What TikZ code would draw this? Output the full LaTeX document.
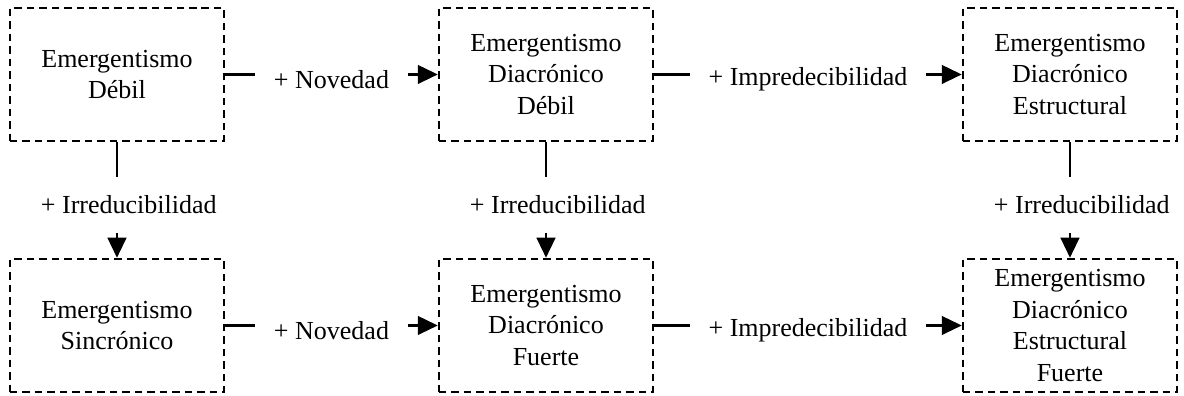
\documentclass[tikz,border=0pt]{standalone}
\usepackage{fontspec}
\setmainfont{Liberation Serif}
\usetikzlibrary{calc,arrows.meta}

\begin{document}
\begin{tikzpicture}[
    caja/.style={draw, line width=1.2pt, dash pattern=on 3.6pt off 2.4pt,
      minimum width=3.615cm, minimum height=2.247cm, align=center, inner sep=0pt},
    etiqueta/.style={inner sep=8.7pt, yshift=-0.085cm},
    linea/.style={line width=1pt},
    flecha/.style={line width=1pt, -{Triangle[length=9.6pt,width=9pt]}},
    font=\fontsize{12.5}{15.1}\selectfont
  ]
    % Border
    \useasboundingbox (0,0) rectangle (20,6.689);

    % Upper row
    \node[caja] (debil) at (1.976,5.431) {Emergentismo\\Débil};
    \node[caja] (diacdebil) at (9.223,5.431) {Emergentismo\\Diacrónico\\Débil};
    \node[caja] (estruct) at (18.074,5.431) {Emergentismo\\Diacrónico\\Estructural};

    % Lower row
    \node[caja] (sincr) at (1.976,1.191) {Emergentismo\\Sincrónico};
    \node[caja] (diacfuerte) at (9.223,1.191) {Emergentismo\\Diacrónico\\Fuerte};
    \node[caja] (estructfuerte) at (18.074,1.191) {Emergentismo\\Diacrónico\\Estructural\\Fuerte};

    % Labels between the boxes
    \node[etiqueta] (nov1) at ($(debil.east)!0.5!(diacdebil.west)$) {+ Novedad};
    \node[etiqueta] (imp1) at ($(diacdebil.east)!0.5!(estruct.west)$) {+ Impredecibilidad};
    \node[etiqueta] (nov2) at ($(sincr.east)!0.5!(diacfuerte.west)$) {+ Novedad};
    \node[etiqueta] (imp2) at ($(diacfuerte.east)!0.5!(estructfuerte.west)$) {+ Impredecibilidad};
    \node[etiqueta,xshift=0.2cm] (irr1) at ($(debil.south)!0.5!(sincr.north)$) {+ Irreducibilidad};
    \node[etiqueta,xshift=0.2cm] (irr2) at ($(diacdebil.south)!0.5!(diacfuerte.north)$) {+ Irreducibilidad};
    \node[etiqueta,xshift=0.2cm] (irr3) at ($(estruct.south)!0.5!(estructfuerte.north)$) {+ Irreducibilidad};

    % Horizontal connectors
    \draw[linea] (debil) -- (debil -| nov1.west);
    \draw[flecha] (diacdebil -| nov1.east) -- (diacdebil);
    \draw[linea] (diacdebil) -- (diacdebil -| imp1.west);
    \draw[flecha] (estruct -| imp1.east) -- (estruct);
    \draw[linea] (sincr) -- (sincr -| nov2.west);
    \draw[flecha] (diacfuerte -| nov2.east) -- (diacfuerte);
    \draw[linea] (diacfuerte) -- (diacfuerte -| imp2.west);
    \draw[flecha] (estructfuerte -| imp2.east) -- (estructfuerte);

    % Vertical connectors
    \draw[linea] (debil) -- (debil |- irr1.north);
    \draw[flecha] (sincr |- irr1.south) -- (sincr);
    \draw[linea] (diacdebil) -- (diacdebil |- irr2.north);
    \draw[flecha] (diacfuerte |- irr2.south) -- (diacfuerte);
    \draw[linea] (estruct) -- (estruct |- irr3.north);
    \draw[flecha] (estructfuerte |- irr3.south) -- (estructfuerte);
  \end{tikzpicture}
\end{document}
